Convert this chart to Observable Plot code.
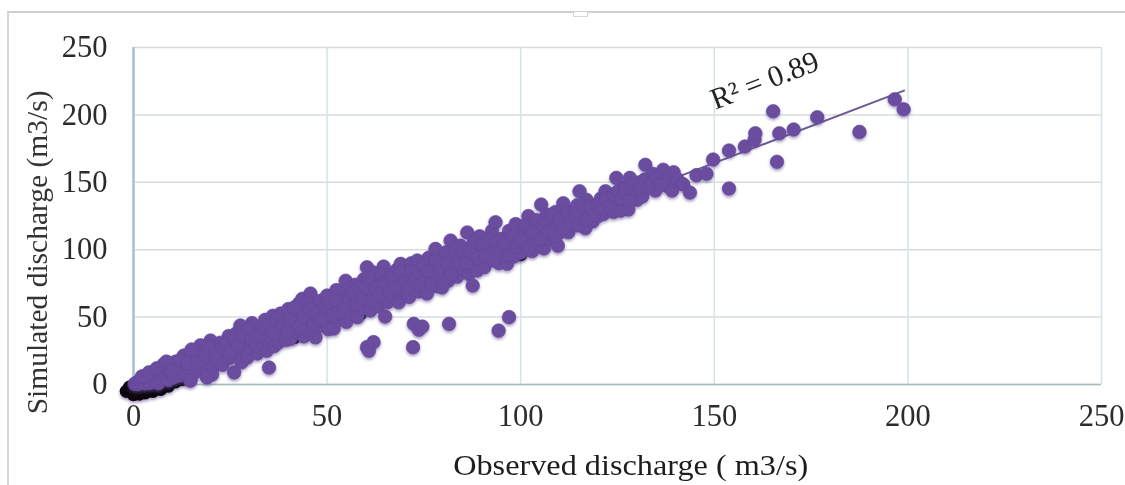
<!DOCTYPE html>
<html>
<head>
<meta charset="utf-8">
<script src="https://cdn.jsdelivr.net/npm/d3@7"></script>
<script src="https://cdn.jsdelivr.net/npm/@observablehq/plot@0.6"></script>
<style>
html,body{margin:0;padding:0;background:#fff;width:1125px;height:485px;overflow:hidden}
#wrap{position:relative;width:1125px;height:485px}
#frame{position:absolute;left:7px;top:11px;width:1118px;height:474px;border-top:2px solid #cfcfcf;border-left:2px solid #d6d6d6;box-sizing:border-box}
#handle{position:absolute;left:573px;top:12px;width:13px;height:4px;border:1px solid #d8d8d8;border-top:none;background:#fff}
svg{position:absolute;left:0;top:0;background:transparent!important;filter:blur(.45px)}
</style>
</head>
<body>
<div id="wrap"><div id="frame"></div><div id="handle"></div></div>
<script>
const xTicks = [0, 50, 100, 150, 200, 250];
const yTicks = [0, 50, 100, 150, 200, 250];
const trendObserved = [0, 199];
const trendSimulated = [0, 218];

// Dark points showing beneath the purple ones
const blackPoints = [[-1.8,-5],[-1,-2],[0,-7.4],[1.5,-7],[3,-6],[5,-5],[7,-3.5],[9,-1],[10.8,2],[12.5,3.8],
 [20,12],[28.4,20],[41.5,35],[58.6,52.6],[100,96.5]];

const originPoints = [[0.3,0.5],[0.8,1.5],[1.2,0.3],[1.6,3],[2,1.5],[2.5,4],[2.9,0.8],[3.3,6.5],[3.6,2.8],[4.2,1],
 [4.5,5],[5.1,8],[5.5,2.5],[6,6],[6.4,0.9],[6.8,10],[7.2,3.9],[7.8,15],[8,7.5],[8.6,12],[9,3.3],[9.5,9],[10,14],
 [10.4,5.2],[10.9,17],[11.3,11],[11.8,6.5],[12.4,14.4],[13,21.5],[13.1,8.2],[13.7,18],[14.2,11.4],[14.7,3],[14.9,23],
 [15.4,15.8],[16,9.2],[16.4,20],[17.3,29],[17.4,13],[18,25],[18.6,17],[19,5.5],[19.3,9.5],[19.9,32.6],[20,21],
 [20.6,13],[20.3,7.5],[21.2,27.6],[22,18],[22.4,31],[23,14.6],[23.7,24],[24.6,36],[24.8,19.5],[25.6,29]];

const lowerBand = [[26.6,38],[27.6,43.8],[27.2,22],[27.9,16.5],[28.8,32],[29.4,20],[30.6,45.5],[30.2,27],[31.4,37],[32,23],
 [32.9,42],[33.3,30],[34,48],[34.4,25],[35.3,36],[36,51],[36.3,28.5],[37,43],[37.4,31],[38,52.7],[38.3,37.5],[39,47],
 [39.4,33],[40,56],[40.5,34],[40.8,42],[41.6,51],[42,38.6],[42.7,60],[43.1,45],[43.6,63.6],[44,35.7],[44.6,54],[45,40],
 [45.7,67.5],[46,48],[46.7,60],[47,35],[47.5,42.7],[48.3,62],[48.6,55],[49.2,47],[50,66],[50.3,41],[50.7,52.5],[51.4,60],
 [51.7,41.5],[52.4,70],[52.8,48],[53.5,56],[54,64],[54.8,77],[55,46.5],[55.4,70],[56,52.5],[56.7,60.5],[57.3,74],[57.8,50],
 [58.4,67],[58.8,56],[59.5,78],[60,61],[60.3,87],[61.2,55],[61,71],[62,83],[62.4,64],[63.2,58],[63.6,76],[64.6,87.5],
 [64.9,68],[65.6,61],[66,81],[66.6,74],[67.4,65],[68,85],[68.5,61],[68.9,78],[69,89.5],[70,70],[70.6,84],[71.2,65],
 [71.8,90],[72.4,76],[73.3,92],[73.6,69],[74.3,84],[75,72],[75.8,67.5]];

const upperBand = [[76.2,94],[76.7,79],[77.4,87],[78,100.6],[78.4,73],[79.2,92],[79.7,72],[80,82],[80.7,98],[81.3,77],
 [81.9,106.8],[82.4,88],[83,95],[83.6,80],[84.4,103],[85,86],[85.6,94],[86.2,112.8],[86.6,82],[87.7,104],[88,91],
 [88.8,84.6],[89.4,110],[90,97],[90.6,87],[91.3,104],[92,92],[92.6,114],[93.5,120.4],[93.8,100],[94.4,90],[95,108],
 [95.7,95],[96.5,89.6],[97,114],[97.5,102],[98.2,95],[98.7,119],[99,108],[100,98],[100.7,114],[101.2,103],[102,125],
 [102.3,109],[103,99],[103.7,119],[104.4,104],[105.3,133.5],[105.5,113],[106,101],[106.7,126],[107.4,108],[108.2,119],
 [109,128],[109.6,103],[110.2,113],[111,134.5],[111.5,121],[112.3,113],[113,128],[113.8,118],[114.6,133],[115.2,143.4],
 [115.6,124],[116.7,116],[117,137],[117.7,128],[118.6,121],[119.3,133],[120,125],[120.7,138],[121.4,126.6],[121.9,143.4],
 [122.6,132],[123.5,139],[124,128],[124.7,153.3],[125,134],[125.8,129],[126.5,146],[127.4,136],[127.8,129.8],[128.2,153.3],
 [129,143],[130,137],[130.7,150],[131.4,139.5],[132.2,163],[132.6,147],[133.3,153],[134.1,156.3],[134.8,143.9],[135.6,150],
 [136.8,159.3],[137.4,152],[138,147],[139.5,157.5],[139.1,143.9],[140.4,152.5],[141.7,148.9]];

const interiorPoints = [[2.2,6],[4,9],[6,12],[8.5,17],[10,10],[12,18],[14,15],[15,26],[16.5,16],[18.5,21],[19.5,28],[21,23],
 [22.8,27],[24,30],[25,24],[26,34],[27,29],[28,37],[29.5,41],[30.5,33],[31.8,29],[32.5,36],[33.8,42],[35,44],[36,38],[37,49],
 [38.5,44],[39.8,39],[40.5,48],[41.5,57],[42.8,43],[43.8,50],[44.8,60],[45.5,56],[46.5,44],[47.5,52],[48.5,48],[49.5,58],
 [50.5,61],[51.5,51],[52.5,62],[53,53],[54.5,58],[55.5,64],[56.5,68],[57.5,59],[58,72],[59,64],[60,72],[60.8,79],[61.5,62],
 [62.5,72],[63.5,67],[64,82],[65,76],[66,69],[67,79],[67.8,72],[69,83],[70,76],[70.9,72],[72,84],[73,79],[74,74],[75,88],
 [76,84],[77,74],[78,92],[79,85],[80,76],[81,90],[82,82],[83,101],[84,90],[85,99],[86,90],[87,98],[88,106],[89,94],[90,104],
 [91,96],[92,108],[93,92],[94,106],[95,99],[96,104],[97,96],[98,110],[99,102],[100,106],[101,118],[102,100],[103,113],[104,122],
 [105,108],[106,118],[107,113],[108,126],[109,110],[110,122],[111,116],[112,127],[113,120],[114,126],[115,118],[116,133],
 [117,122],[118,132],[119,126],[120,134],[121,130],[122,138],[123,132],[124,141],[125,143],[126,138],[127,145],[128,136],
 [129,148],[130,144],[131,145],[132,152],[133,146],[134,150],[135,153],[136,148]];

const tailPoints = [[142,148.4],[143.7,142.4],[145.4,155.3],[148,156.3],[149.7,166.9],[153.8,173.6],[153.8,145.4],[157.9,176.6],
 [160.4,181.5],[160.6,186.4],[165.2,202.7],[166.2,165.2],[166.8,186.4],[170.5,189.2],[176.6,198.3],[187.5,187.4],[196.6,211.6],[198.9,204.2]];

const lowOutliers = [[14.7,3],[19,5.5],[26,9],[35,12.6],[60.3,27.7],[60.8,25],[62,31.4],[65,50.4],[72.2,27.7],[72.4,45],[73.7,40.6],
 [74.6,43],[81.5,45],[87.6,73.4],[94.3,40],[97,50]];

const labelPoint = [[163, 225.5]];
const xLabelPoint = [[128.4, -60]];
const yLabelPoint = [[-24.8, 98]];
const purple = originPoints.concat(lowerBand, upperBand, interiorPoints, tailPoints, lowOutliers);

const plot = Plot.plot({
  width: 1125,
  height: 485,
  marginLeft: 133,
  marginRight: 24,
  marginTop: 47,
  marginBottom: 101,
  style: {background: "transparent", fontFamily: "Liberation Serif", color: "#2b2b2b"},
  x: {domain: [0, 250], ticks: xTicks, label: null},
  y: {domain: [0, 250], ticks: yTicks, label: null},
  marks: [
    Plot.ruleY(yTicks, {y: d => d, stroke: "#d6dcdc", strokeWidth: 1.5}),
    Plot.ruleX(xTicks, {x: d => d, stroke: "#d3e4ea", strokeWidth: 1.5}),
    Plot.ruleY([0], {stroke: "#a3bdbd", strokeWidth: 1.5}),
    Plot.ruleX([0], {stroke: "#a9bfd4", strokeWidth: 2.5}),
    Plot.line(trendObserved.map((x, i) => [x, trendSimulated[i]]), {x: d => d[0], y: d => d[1], stroke: "#6d5a92", strokeWidth: 2}),
    Plot.dot(blackPoints, {x: d => d[0], y: d => d[1], r: 6.8, fill: "#0c070f"}),
    Plot.dot(purple, {x: d => d[0], y: d => d[1], r: 6.8, fill: "#6b4d9f", stroke: "#62479a", strokeWidth: 0.6}),
    Plot.axisX(xTicks, {tickSize: 0, tickPadding: 20, fontSize: 30.5, label: null}),
    Plot.axisY(yTicks, {tickSize: 0, tickPadding: 26, fontSize: 30.5, label: null}),
    Plot.text(xLabelPoint, {x: d => d[0], y: d => d[1], text: () => "Observed discharge ( m3/s)", fontSize: 30, fill: "#1d1d1d"}),
    Plot.text(yLabelPoint, {x: d => d[0], y: d => d[1], text: () => "Simulated discharge (m3/s)", rotate: -90, fontSize: 29.5, fill: "#333"}),
    Plot.text(labelPoint, {x: d => d[0], y: d => d[1], text: () => "R² = 0.89", rotate: -21, fontSize: 30, fill: "#222"})
  ]
});
d3.select(plot).selectAll("text").filter(function () { return this.textContent.startsWith("Observed"); })
  .attr("textLength", 355).attr("lengthAdjust", "spacingAndGlyphs");
d3.select(plot).selectAll("circle").each(function () {
  d3.select(this.parentNode).style("filter", "drop-shadow(0 2px 1.5px rgba(95,75,140,.55))");
});
document.getElementById("wrap").appendChild(plot);
</script>
</body>
</html>
